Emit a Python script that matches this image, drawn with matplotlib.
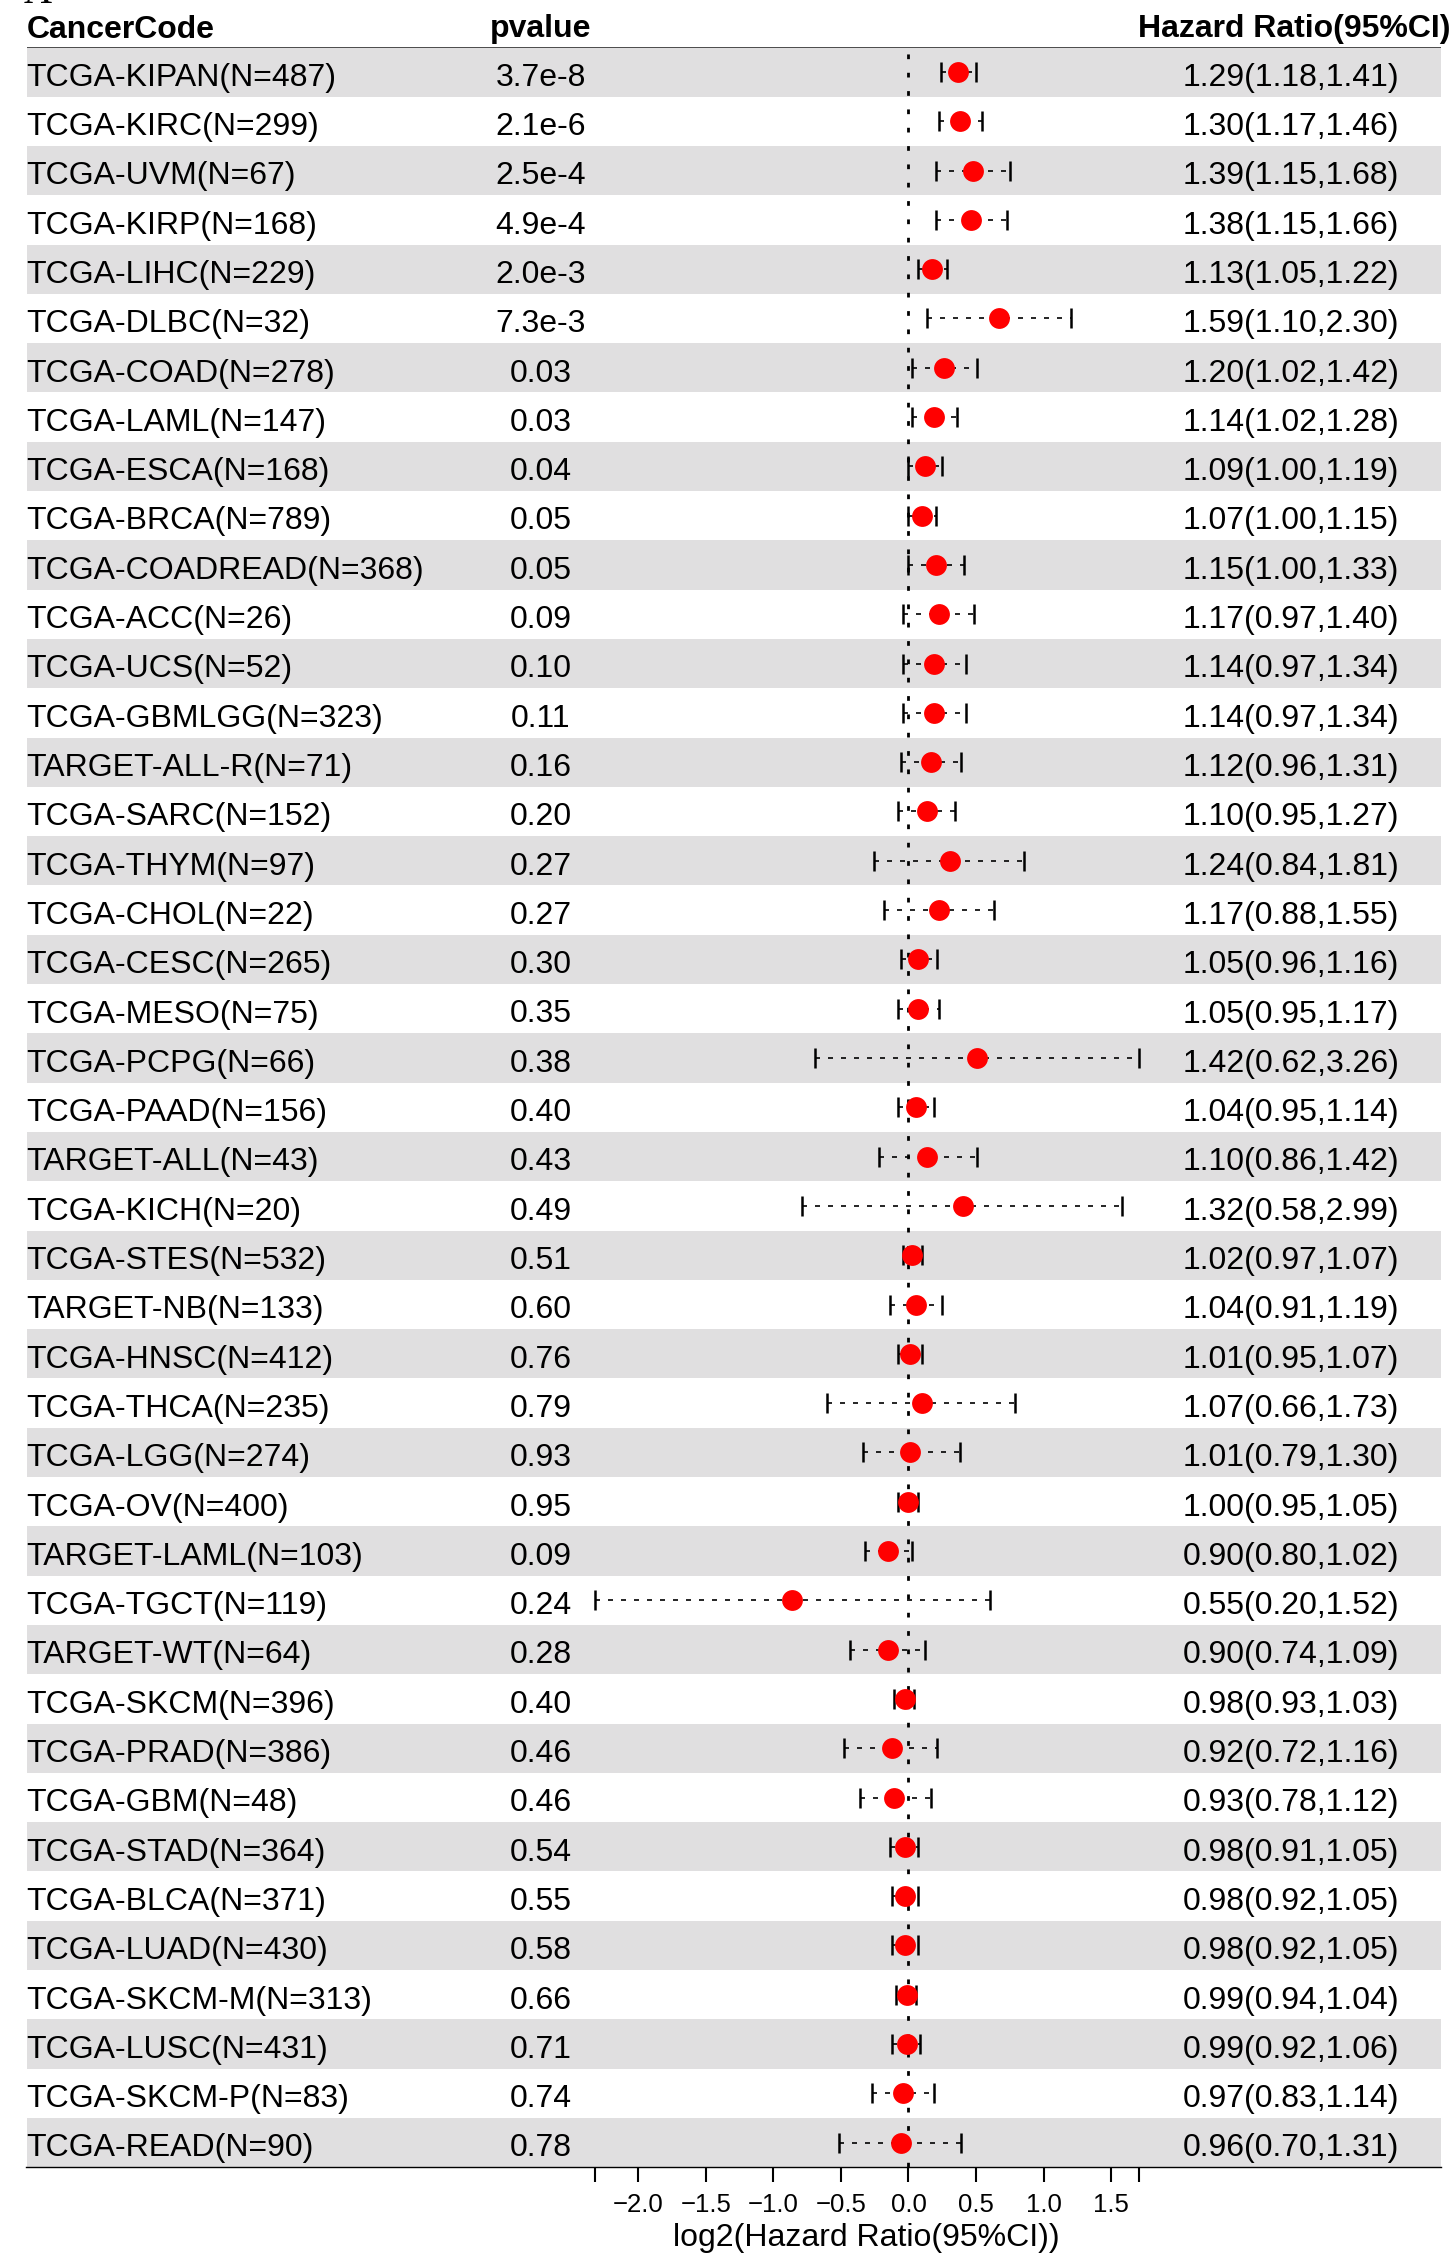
import numpy as np
import matplotlib
matplotlib.use('Agg')
import matplotlib.pyplot as plt
from matplotlib.transforms import blended_transform_factory

plt.rcParams['font.family'] = ['Liberation Sans', 'DejaVu Sans']

# ==========================
# Data
# ==========================
cancer = ['TCGA-KIPAN(N=487)', 'TCGA-KIRC(N=299)', 'TCGA-UVM(N=67)', 'TCGA-KIRP(N=168)',
          'TCGA-LIHC(N=229)', 'TCGA-DLBC(N=32)', 'TCGA-COAD(N=278)', 'TCGA-LAML(N=147)',
          'TCGA-ESCA(N=168)', 'TCGA-BRCA(N=789)', 'TCGA-COADREAD(N=368)', 'TCGA-ACC(N=26)',
          'TCGA-UCS(N=52)', 'TCGA-GBMLGG(N=323)', 'TARGET-ALL-R(N=71)', 'TCGA-SARC(N=152)',
          'TCGA-THYM(N=97)', 'TCGA-CHOL(N=22)', 'TCGA-CESC(N=265)', 'TCGA-MESO(N=75)',
          'TCGA-PCPG(N=66)', 'TCGA-PAAD(N=156)', 'TARGET-ALL(N=43)', 'TCGA-KICH(N=20)',
          'TCGA-STES(N=532)', 'TARGET-NB(N=133)', 'TCGA-HNSC(N=412)', 'TCGA-THCA(N=235)',
          'TCGA-LGG(N=274)', 'TCGA-OV(N=400)', 'TARGET-LAML(N=103)', 'TCGA-TGCT(N=119)',
          'TARGET-WT(N=64)', 'TCGA-SKCM(N=396)', 'TCGA-PRAD(N=386)', 'TCGA-GBM(N=48)',
          'TCGA-STAD(N=364)', 'TCGA-BLCA(N=371)', 'TCGA-LUAD(N=430)', 'TCGA-SKCM-M(N=313)',
          'TCGA-LUSC(N=431)', 'TCGA-SKCM-P(N=83)', 'TCGA-READ(N=90)']

pvalue = ['3.7e-8', '2.1e-6', '2.5e-4', '4.9e-4', '2.0e-3', '7.3e-3', '0.03', '0.03',
          '0.04', '0.05', '0.05', '0.09', '0.10', '0.11', '0.16', '0.20', '0.27', '0.27',
          '0.30', '0.35', '0.38', '0.40', '0.43', '0.49', '0.51', '0.60', '0.76', '0.79',
          '0.93', '0.95', '0.09', '0.24', '0.28', '0.40', '0.46', '0.46', '0.54', '0.55',
          '0.58', '0.66', '0.71', '0.74', '0.78']

hr = [1.29, 1.30, 1.39, 1.38, 1.13, 1.59, 1.20, 1.14, 1.09, 1.07, 1.15, 1.17, 1.14, 1.14,
      1.12, 1.10, 1.24, 1.17, 1.05, 1.05, 1.42, 1.04, 1.10, 1.32, 1.02, 1.04, 1.01, 1.07,
      1.01, 1.00, 0.90, 0.55, 0.90, 0.98, 0.92, 0.93, 0.98, 0.98, 0.98, 0.99, 0.99, 0.97,
      0.96]
hr_low = [1.18, 1.17, 1.15, 1.15, 1.05, 1.10, 1.02, 1.02, 1.00, 1.00, 1.00, 0.97, 0.97, 0.97,
          0.96, 0.95, 0.84, 0.88, 0.96, 0.95, 0.62, 0.95, 0.86, 0.58, 0.97, 0.91, 0.95, 0.66,
          0.79, 0.95, 0.80, 0.20, 0.74, 0.93, 0.72, 0.78, 0.91, 0.92, 0.92, 0.94, 0.92, 0.83,
          0.70]
hr_high = [1.41, 1.46, 1.68, 1.66, 1.22, 2.30, 1.42, 1.28, 1.19, 1.15, 1.33, 1.40, 1.34, 1.34,
           1.31, 1.27, 1.81, 1.55, 1.16, 1.17, 3.26, 1.14, 1.42, 2.99, 1.07, 1.19, 1.07, 1.73,
           1.30, 1.05, 1.02, 1.52, 1.09, 1.03, 1.16, 1.12, 1.05, 1.05, 1.05, 1.04, 1.06, 1.14,
           1.31]

xticks = [-2.0, -1.5, -1.0, -0.5, 0.0, 0.5, 1.0, 1.5]

# ==========================
# Layout (pixel geometry of the reference)
# ==========================
W, H = 1449, 2254
left_px, right_px = 26.5, 1440.7
top_px, bottom_px = 47.3, 2167.3
zero_px, unit_px = 908.5, 135.2
row_h = (bottom_px - top_px) / len(cancer)
FS = 23          # table text size
TXT_OFF = 0.28   # baseline offset below row centre, in rows

n = len(cancer)
rows = np.arange(n)
est = np.log2(hr)
lo = np.log2(hr_low)
hi = np.log2(hr_high)

fig = plt.figure(figsize=(W / 100, H / 100), dpi=100)
ax = fig.add_axes([left_px / W, 1 - bottom_px / H,
                   (right_px - left_px) / W, (bottom_px - top_px) / H])
ax.set_xlim((left_px - zero_px) / unit_px, (right_px - zero_px) / unit_px)
ax.set_ylim(n - 0.5, -0.5)

# striped rows
for i in range(0, n, 2):
    ax.axhspan(i - 0.5, i + 0.5, color='#e0dfe0', lw=0, zorder=0)

# header line
ax.axhline(-0.5, color='#333333', lw=1.2, zorder=3)

# reference line at log2(HR) = 0
ax.axvline(0, color='black', lw=2.0, linestyle=(0, (1.7, 4.9)), zorder=2)

# confidence intervals
ax.hlines(rows, lo, hi, color='black', lw=1.2, linestyle=(0, (3.0, 4.8)), zorder=3)
ax.plot(lo, rows, ls='none', marker='|', ms=14.4, mew=1.8, color='black', zorder=3)
ax.plot(hi, rows, ls='none', marker='|', ms=14.4, mew=1.8, color='black', zorder=3)
ax.plot(est, rows, ls='none', marker='o', ms=15, mec='none', color='#ff0000', zorder=4)

# axis
for side in ['top', 'left', 'right']:
    ax.spines[side].set_visible(False)
ax.spines['bottom'].set_linewidth(1.0)
ax.set_yticks([])
axis_min, axis_max = lo.min(), hi.max()
ax.set_xticks([axis_min] + xticks + [axis_max])
ax.set_xticklabels([''] + [('%.1f' % t).replace('-', '\u2212') for t in xticks] + [''])
ax.tick_params(axis='x', direction='out', length=10.8, width=1.5, labelsize=18.5, pad=8)

# text columns
tr = blended_transform_factory(ax.transAxes, ax.transData)
col_label = 0.0
col_p = (541 - left_px) / (right_px - left_px)
col_hr = (1291 - left_px) / (right_px - left_px)
col_hr_head = (1294 - left_px) / (right_px - left_px)
head_y = (37.5 - top_px) / row_h - 0.5

ax.text(col_label, head_y, 'CancerCode', transform=tr, fontsize=FS, fontweight='bold',
        ha='left', va='baseline')
ax.text(col_p, head_y, 'pvalue', transform=tr, fontsize=FS, fontweight='bold',
        ha='center', va='baseline')
ax.text(col_hr_head, head_y, 'Hazard Ratio(95%CI)', transform=tr, fontsize=FS,
        fontweight='bold', ha='center', va='baseline', clip_on=False)

for i in range(n):
    y = i + TXT_OFF
    ax.text(col_label, y, cancer[i], transform=tr, fontsize=FS, ha='left', va='baseline')
    ax.text(col_p, y, pvalue[i], transform=tr, fontsize=FS, ha='center', va='baseline')
    ax.text(col_hr, y, '%.2f(%.2f,%.2f)' % (hr[i], hr_low[i], hr_high[i]), transform=tr,
            fontsize=FS, ha='center', va='baseline')

# x label, centred on the drawn axis range
xlab_y = (2238 - top_px) / row_h - 0.5
ax.text((axis_min + axis_max) / 2, xlab_y, 'log2(Hazard Ratio(95%CI))', fontsize=FS,
        ha='center', va='center', clip_on=False)

# panel letter, mostly cut off at the top edge
fig.text(24 / W, 1 - 3 / H, 'A', family=['Liberation Serif', 'DejaVu Serif'], fontsize=28,
         ha='left', va='baseline')

fig.savefig('out.png', dpi=100)
